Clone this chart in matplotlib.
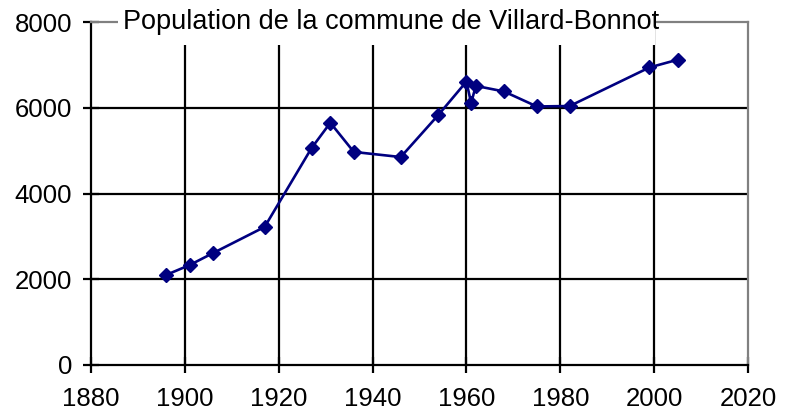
import matplotlib
matplotlib.use("Agg")
import matplotlib.pyplot as plt
from matplotlib.patches import Rectangle

years = [1896, 1901, 1906, 1917, 1927, 1931, 1936, 1946, 1954, 1960, 1961, 1962, 1968, 1975, 1982, 1999, 2005]
population = [2100, 2330, 2610, 3220, 5060, 5650, 4970, 4850, 5830, 6610, 6110, 6510, 6380, 6030, 6040, 6940, 7120]
x_ticks = [1880, 1900, 1920, 1940, 1960, 1980, 2000, 2020]
y_ticks = [0, 2000, 4000, 6000, 8000]
title = "Population de la commune de Villard-Bonnot"

plt.rcParams['font.family'] = ['Liberation Sans', 'DejaVu Sans']

fig = plt.figure(figsize=(7.87, 4.13), dpi=100)
ax = fig.add_axes([91/787, 1 - 365/413, (748 - 91)/787, (365 - 22)/413])

ax.set_xlim(1880, 2020)
ax.set_ylim(0, 8000)
ax.set_xticks(x_ticks)
ax.set_yticks(y_ticks)

for xv in x_ticks[1:-1]:
    ax.axvline(xv, color='black', lw=1.6, zorder=1)
for yv in y_ticks[1:-1]:
    ax.axhline(yv, color='black', lw=1.6, zorder=1)

ax.plot(years, population, color='#000080', lw=1.9, marker='D', ms=7,
        markerfacecolor='#000080', markeredgecolor='#000080', zorder=3, clip_on=False)

for s in ['left', 'bottom']:
    ax.spines[s].set_color('black')
    ax.spines[s].set_linewidth(1.6)
for s in ['top', 'right']:
    ax.spines[s].set_color('#808080')
    ax.spines[s].set_linewidth(1.6)

ax.tick_params(axis='both', direction='inout', length=11, width=1.6, labelsize=18.5, colors='black')
ax.tick_params(axis='y', pad=8)
ax.tick_params(axis='x', pad=10)

# white title box interrupting the top border
ax.add_patch(Rectangle((0.041, 0.933), 0.818, 0.2, transform=ax.transAxes,
                       facecolor='white', edgecolor='none', zorder=4, clip_on=False))
ax.text(0.048, 1.0, title, transform=ax.transAxes, fontsize=19.5, va='center', ha='left',
        zorder=5, clip_on=False)

fig.savefig("out.png", dpi=100)
